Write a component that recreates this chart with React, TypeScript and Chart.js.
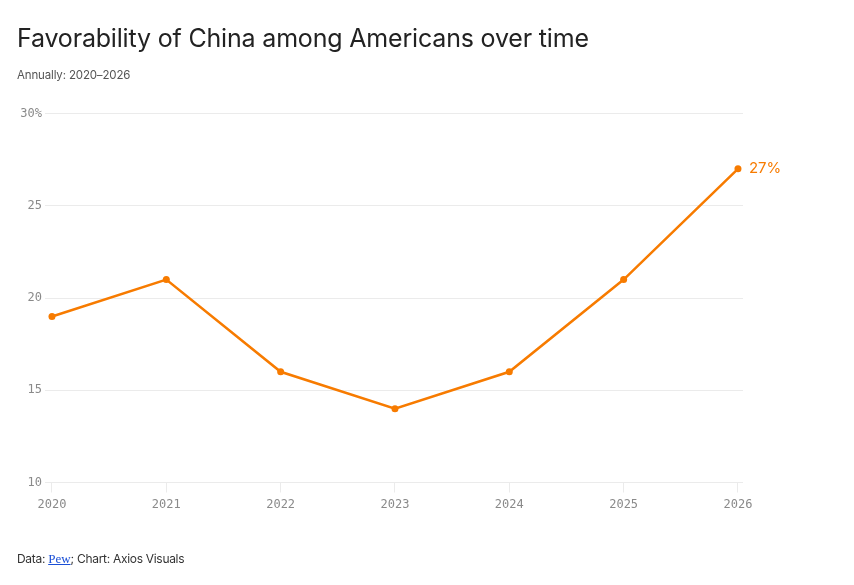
import React, { useEffect, useRef } from "react";
import { Chart, registerables } from "chart.js";

Chart.register(...registerables);

const years = [2020, 2021, 2022, 2023, 2024, 2025, 2026];
const favorability = [19, 21, 16, 14, 16, 21, 27];
const yTicks = [10, 15, 20, 25, 30];
const lastLabel = "27%";

const ORANGE = "#f77b00";
const MONO = "'DejaVu Sans Mono', 'Liberation Mono', monospace";
const SANS = "Inter, 'Noto Sans', sans-serif";

const endLabelPlugin = {
  id: "endLabel",
  afterDatasetsDraw(chart: any) {
    const meta = chart.getDatasetMeta(0);
    const pt = meta.data[meta.data.length - 1];
    if (!pt) return;
    const ctx = chart.ctx;
    ctx.save();
    ctx.font = `15px ${SANS}`;
    ctx.fillStyle = ORANGE;
    ctx.textAlign = "left";
    ctx.textBaseline = "middle";
    ctx.fillText(lastLabel, pt.x + 11, pt.y);
    ctx.restore();
  },
};

export default function App() {
  const ref = useRef<HTMLCanvasElement | null>(null);

  useEffect(() => {
    if (!ref.current) return;
    const chart = new Chart(ref.current, {
      type: "line",
      data: {
        datasets: [
          {
            data: years.map((x, i) => ({ x, y: favorability[i] })),
            borderColor: ORANGE,
            backgroundColor: ORANGE,
            borderWidth: 2.5,
            pointRadius: 3.5,
            pointBorderWidth: 0,
            pointBackgroundColor: ORANGE,
            tension: 0,
          },
        ],
      },
      options: {
        animation: false,
        responsive: true,
        maintainAspectRatio: false,
        layout: { padding: { left: 0, right: 111, top: 113.5, bottom: 62.5 } },
        plugins: {
          legend: { display: false },
          tooltip: { enabled: false },
          title: { display: false },
        },
        scales: {
          x: {
            type: "linear",
            min: 2019.939,
            max: 2026.044,
            afterBuildTicks: (scale: any) => {
              scale.ticks = years.map((v) => ({ value: v }));
            },
            afterFit: (scale: any) => {
              scale.height = 40;
            },
            grid: {
              drawOnChartArea: false,
              drawTicks: true,
              tickLength: 10,
              color: "#ebebeb",
              lineWidth: 1,
            },
            border: { display: false },
            ticks: {
              padding: 5,
              color: "#8a8a8a",
              font: { family: MONO, size: 12 },
              callback: (v: any) => String(v),
              maxRotation: 0,
              autoSkip: false,
            },
          },
          y: {
            min: 10,
            max: 30,
            afterBuildTicks: (scale: any) => {
              scale.ticks = yTicks.map((v) => ({ value: v }));
            },
            afterFit: (scale: any) => {
              scale.width = 45;
            },
            grid: {
              drawTicks: false,
              color: "#ebebeb",
              lineWidth: 1,
            },
            border: { display: false },
            ticks: {
              padding: 3,
              color: "#8a8a8a",
              font: { family: MONO, size: 12 },
              callback: (v: any) => (v === 30 ? `${v}%` : String(v)),
            },
          },
        },
      },
      plugins: [endLabelPlugin],
    });
    return () => chart.destroy();
  }, []);

  return (
    <div
      style={{
        position: "fixed",
        left: 0,
        top: 0,
        width: 854,
        height: 585,
        background: "#fff",
        overflow: "hidden",
      }}
    >
      <div style={{ position: "absolute", left: 0, top: 0, width: 854, height: 585 }}>
        <canvas ref={ref} />
      </div>
      <div
        style={{
          position: "absolute",
          left: 17,
          top: 23,
          fontFamily: SANS,
          fontSize: 25,
          color: "#222",
          whiteSpace: "nowrap",
          letterSpacing: -0.18,
        }}
      >
        Favorability of China among Americans over time
      </div>
      <div
        style={{
          position: "absolute",
          left: 17,
          top: 67.5,
          fontFamily: SANS,
          fontSize: 11.5,
          color: "#555",
          whiteSpace: "nowrap",
          letterSpacing: -0.15,
        }}
      >
        Annually: 2020–2026
      </div>
      <div
        style={{
          position: "absolute",
          left: 17,
          top: 551,
          fontFamily: SANS,
          fontSize: 12,
          color: "#333",
          whiteSpace: "nowrap",
          letterSpacing: -0.3,
        }}
      >
        Data:{" "}
        <a href="#" style={{ fontFamily: "'Liberation Serif', serif", fontSize: 13, color: "#1a4fd6", letterSpacing: 0 }}>
          Pew
        </a>
        ; Chart: Axios Visuals
      </div>
    </div>
  );
}
